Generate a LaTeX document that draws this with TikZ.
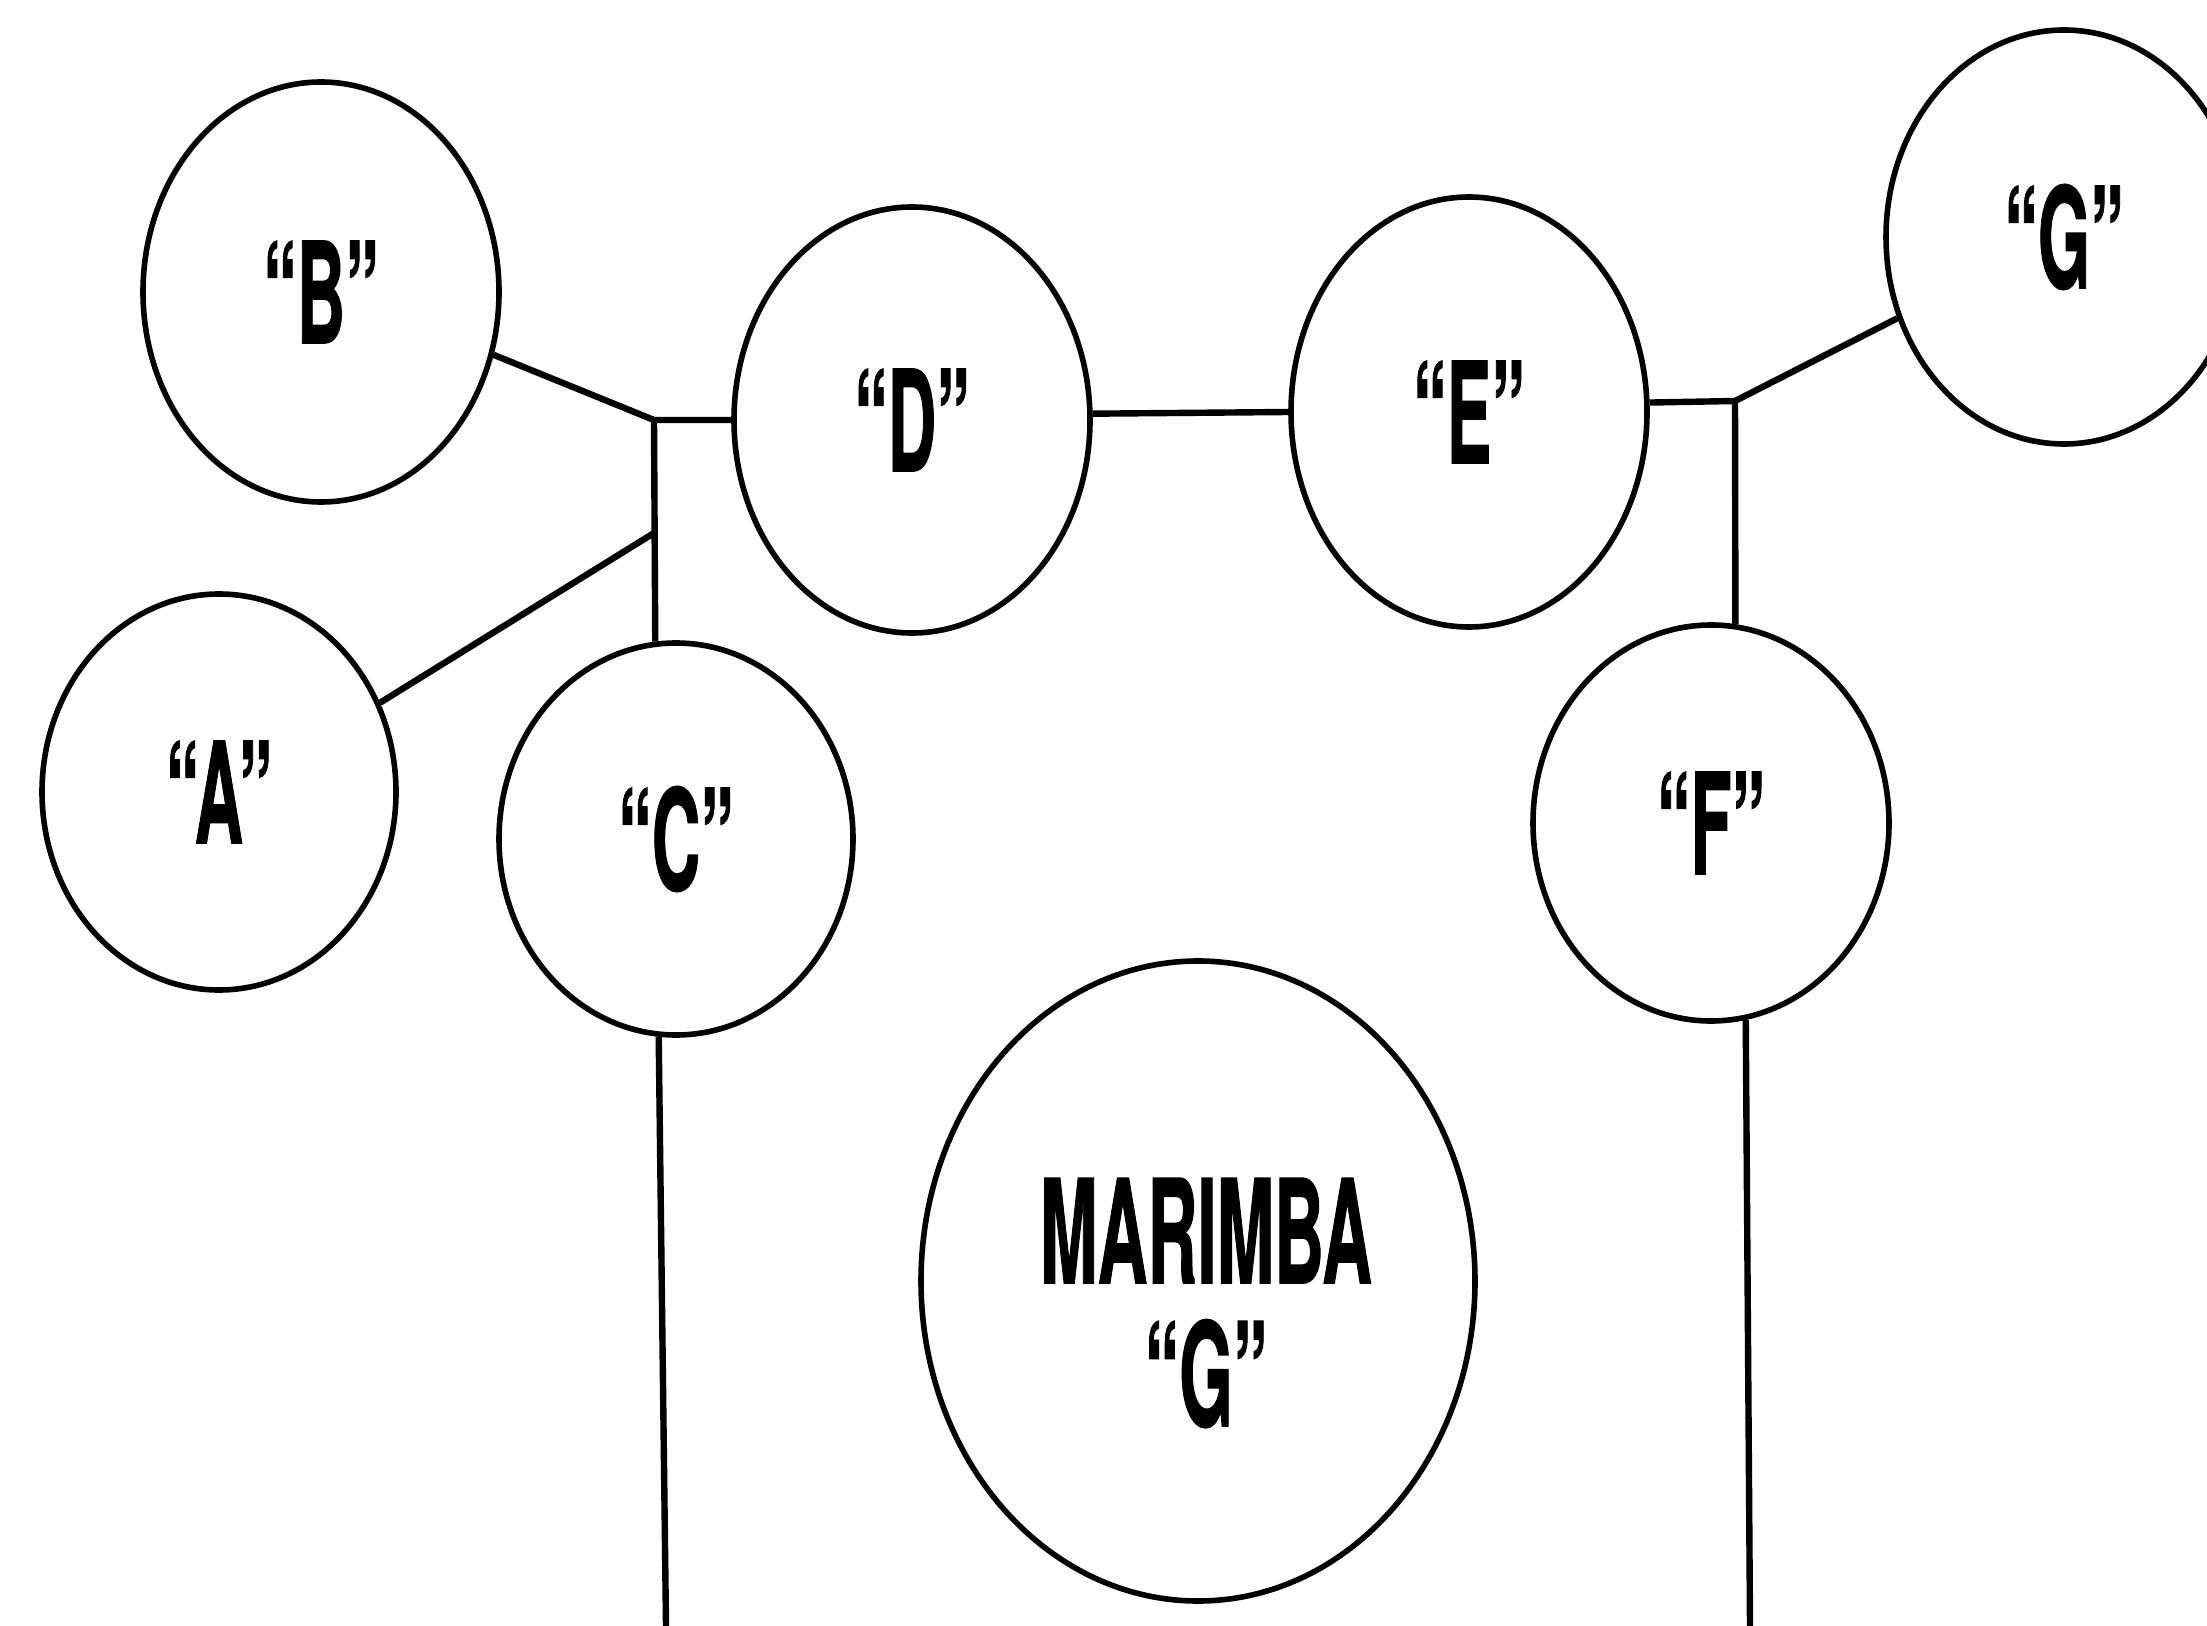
\documentclass[tikz,border=0pt]{standalone}
\usepackage{fontspec}
\setmainfont{TeX Gyre Heros}
\newfontfamily\heavyfont[FakeBold=1.2]{TeX Gyre Heros Bold}
\usepackage{graphicx}
\usetikzlibrary{shapes.geometric}
\newcommand{\lbl}[1]{\scalebox{0.48}[1]{\heavyfont #1}}
\begin{document}
\begin{tikzpicture}[x=0.5pt,y=-0.5pt,
  disc/.style={draw, ellipse, line width=2.8pt, inner sep=0pt, font=\fontsize{70}{72}\selectfont},
  wire/.style={line width=3.2pt},
  bigtext/.style={inner sep=0pt, align=center, font=\fontsize{72}{71.5}\selectfont}]
\useasboundingbox (0,0) rectangle (2207,1626);
\fill[white] (0,0) rectangle (2207,1626);
% circles
\node[disc, minimum width=178pt, minimum height=210pt] (B) at (321,292) {\lbl{“B”}};
\node[disc, minimum width=178pt, minimum height=213pt] (D) at (912,420) {\lbl{“D”}};
\node[disc, minimum width=177pt, minimum height=198pt] (A) at (219,792) {\lbl{“A”}};
\node[disc, minimum width=177pt, minimum height=196pt] (C) at (676,839) {\lbl{“C”}};
\node[disc, minimum width=178pt, minimum height=215pt] (E) at (1469,412) {\lbl{“E”}};
\node[disc, minimum width=178pt, minimum height=207pt] (G) at (2064,237) {\lbl{“G”}};
\node[disc, minimum width=178pt, minimum height=198pt] (F) at (1711,823) {\lbl{“F”}};
\node[disc, minimum width=277pt, minimum height=320pt] (M) at (1198,1281) {};
\node[bigtext] (Mtext) at (1206,1303) {\lbl{MARIMBA}\\\lbl{“G”}};
% junctions and free ends
\coordinate (J1) at (654,420);
\coordinate (J2) at (654,533);
\coordinate (J3) at (1735,401);
\coordinate (CB) at (666,1626);
\coordinate (FB) at (1750,1626);
% connectors
\draw[wire] (B.-20.8) -- (J1) -- (D.west);
\draw[wire] (J1) -- (C.96);
\draw[wire] (A.29.6) -- (J2);
\draw[wire] (D.2) -- (E.west);
\draw[wire] (E.3) -- (J3) -- (F.83);
\draw[wire] (J3) -- (G.206.8);
\draw[wire] (C.-95) -- (CB);
\draw[wire] (F.-80.3) -- (FB);
\end{tikzpicture}
\end{document}
